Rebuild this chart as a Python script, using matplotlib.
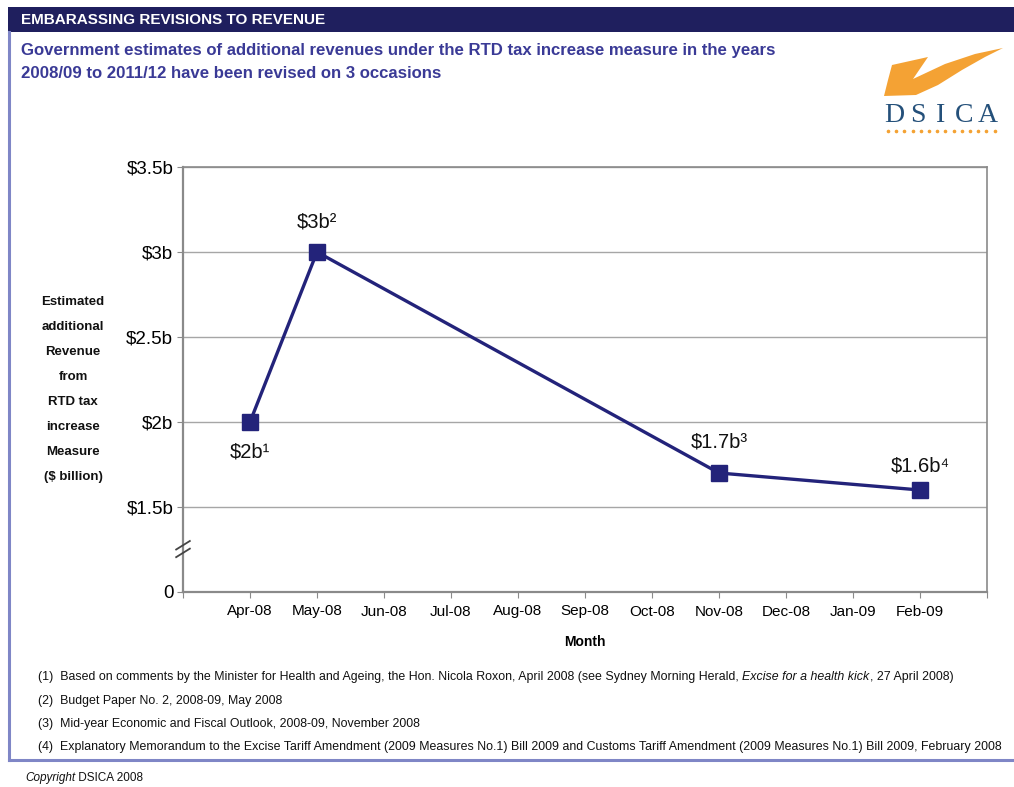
import matplotlib
matplotlib.use("Agg")
import matplotlib.pyplot as plt
from matplotlib.patches import Rectangle, Polygon
from matplotlib.lines import Line2D

# ---- data ----
months = ["Apr-08", "May-08", "Jun-08", "Jul-08", "Aug-08", "Sep-08",
          "Oct-08", "Nov-08", "Dec-08", "Jan-09", "Feb-09"]
estimate_months = ["Apr-08", "May-08", "Nov-08", "Feb-09"]
estimate_values = [2.0, 3.0, 1.7, 1.6]          # $ billion
estimate_labels = ["$2b¹", "$3b²", "$1.7b³", "$1.6b⁴"]
ytick_values = [1.0, 1.5, 2.0, 2.5, 3.0, 3.5]    # 1.0 is the broken-axis origin
ytick_labels = ["0", "$1.5b", "$2b", "$2.5b", "$3b", "$3.5b"]
footnotes = [
    "(1)  Based on comments by the Minister for Health and Ageing, the Hon. Nicola Roxon, April 2008 (see Sydney Morning Herald, ",
    "(2)  Budget Paper No. 2, 2008-09, May 2008",
    "(3)  Mid-year Economic and Fiscal Outlook, 2008-09, November 2008",
    "(4)  Explanatory Memorandum to the Excise Tariff Amendment (2009 Measures No.1) Bill 2009 and Customs Tariff Amendment (2009 Measures No.1) Bill 2009, February 2008",
]

W, H = 1014, 787
NAVY = "#1f1f5e"
LINE = "#23237a"
TITLE = "#3a3a96"
GRID = "#a6a6a6"
SANS = ["Liberation Sans", "DejaVu Sans"]

plt.rcParams["font.family"] = SANS
fig = plt.figure(figsize=(W / 100, H / 100), dpi=100)
fig.patch.set_facecolor("white")


def fx(px):
    return px / W


def fy(py):
    return 1 - py / H


# ---- page frame and header ----
fig.add_artist(Rectangle((fx(8), fy(32)), fx(W) - fx(8), fy(7) - fy(32),
                         transform=fig.transFigure, facecolor=NAVY, edgecolor="none"))
fig.add_artist(Line2D([fx(9), fx(9)], [fy(32), fy(760)], transform=fig.transFigure,
                      color="#7f86c6", lw=2.2))
fig.add_artist(Line2D([fx(9), fx(W)], [fy(760), fy(760)], transform=fig.transFigure,
                      color="#7f86c6", lw=2.2))
fig.text(fx(21), fy(20), "EMBARASSING REVISIONS TO REVENUE", color="white",
         fontsize=11, fontweight="bold", va="center", ha="left")
fig.text(fx(21), fy(50), "Government estimates of additional revenues under the RTD tax increase measure in the years",
         color=TITLE, fontsize=12.1, fontweight="bold", va="center", ha="left")
fig.text(fx(21), fy(73), "2008/09 to 2011/12 have been revised on 3 occasions",
         color=TITLE, fontsize=12.1, fontweight="bold", va="center", ha="left")

# ---- logo ----
swoosh = [(892, 65), (928, 57), (913, 79), (945, 64), (975, 54), (1003, 48),
          (985, 57), (962, 70), (938, 85), (916, 95), (884, 96), (888, 80)]
fig.add_artist(Polygon([(fx(x), fy(y)) for x, y in swoosh], closed=True,
                       transform=fig.transFigure, facecolor="#f4a234", edgecolor="none"))
for i, ch in enumerate("DSICA"):
    fig.text(fx(894 + i * 23.5), fy(116), ch, color="#24507a", fontsize=20,
             family=["Liberation Serif", "DejaVu Serif"], ha="center", va="center")
dots_x = [fx(888 + 8.2 * i) for i in range(14)]
fig.add_artist(Line2D(dots_x, [fy(131)] * len(dots_x), transform=fig.transFigure,
                      ls="none", marker="o", ms=1.6, color="#f4a234"))

# ---- chart ----
ax = fig.add_axes([fx(183), fy(592), fx(987) - fx(183), fy(167) - fy(592)])
xpos = [months.index(m) for m in estimate_months]
ax.plot(xpos, estimate_values, color=LINE, lw=2.4, marker="s", ms=11,
        markerfacecolor=LINE, markeredgecolor=LINE, zorder=3)

ax.set_xlim(-1, len(months))
ax.set_ylim(ytick_values[0], ytick_values[-1])
ax.set_xticks(range(-1, len(months) + 1))
ax.set_xticklabels([""] + months + [""], fontsize=11)
ax.set_yticks(ytick_values)
ax.set_yticklabels(ytick_labels, fontsize=13.5)
ax.tick_params(axis="x", length=4, color="#8a8a8a", pad=5)
ax.tick_params(axis="y", length=4, color="#8a8a8a", pad=3)
for yv in ytick_values[1:]:
    ax.axhline(yv, color=GRID, lw=1.0, zorder=1)
for side in ["left", "bottom", "right", "top"]:
    ax.spines[side].set_color("#8a8a8a")
    ax.spines[side].set_linewidth(1.6 if side in ("left", "bottom") else 1.2)

# axis break marks
for y0 in (0.082, 0.100):
    ax.plot([-0.0085, 0.0085], [y0, y0 + 0.020], transform=ax.transAxes,
            color="#444444", lw=1.3, clip_on=False, zorder=4)

# value labels
offsets = [(0, -30), (0, 30), (0, 31), (0, 24)]
for x, y, lab, (dx, dy) in zip(xpos, estimate_values, estimate_labels, offsets):
    ax.annotate(lab, (x, y), xytext=(dx, dy), textcoords="offset pixels",
                ha="center", va="center", fontsize=14.5, color="#111111")

ax.set_xlabel("Month", fontsize=10, fontweight="bold", labelpad=12)

# y-axis title block
ylab_lines = ["Estimated", "additional", "Revenue", "from", "RTD tax",
              "increase", "Measure", "($ billion)"]
for i, line in enumerate(ylab_lines):
    fig.text(fx(73), fy(302 + i * 25), line, fontsize=9.5, fontweight="bold",
             ha="center", va="center", color="#111111")

# ---- footnotes ----
FN = 8.9
r = fig.canvas.get_renderer()
fn_y = [677, 701, 724, 747]
for i, (txt, y) in enumerate(zip(footnotes, fn_y)):
    t = fig.text(fx(38), fy(y), txt, fontsize=FN, ha="left", va="center",
                 color="#111111")
    if i == 0:
        bb = t.get_window_extent(renderer=r)
        t2 = fig.text(bb.x1 / W, fy(y), "Excise for a health kick", fontsize=FN,
                      style="italic", ha="left", va="center", color="#111111")
        bb2 = t2.get_window_extent(renderer=r)
        fig.text(bb2.x1 / W, fy(y), ", 27 April 2008)", fontsize=FN,
                 ha="left", va="center", color="#111111")

c1 = fig.text(fx(25), fy(778), "Copyright", fontsize=8.5, style="italic",
              ha="left", va="center", color="#111111")
bb = c1.get_window_extent(renderer=r)
fig.text(bb.x1 / W, fy(778), " DSICA 2008", fontsize=8.5,
         ha="left", va="center", color="#111111")

fig.savefig("out.png", dpi=100)
